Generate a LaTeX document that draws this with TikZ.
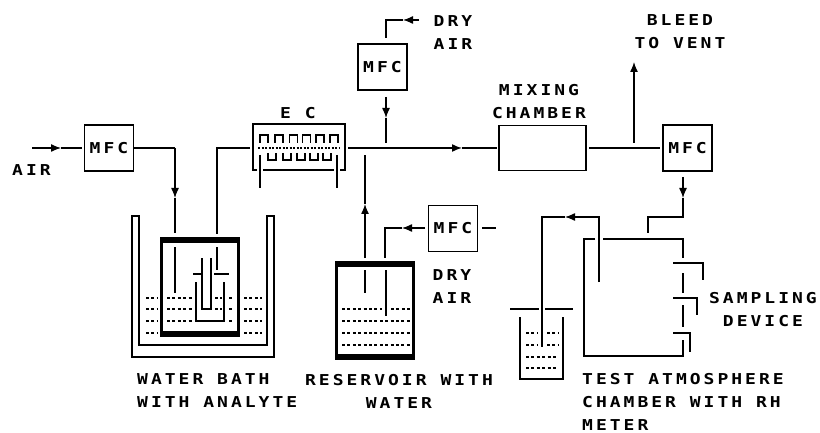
\documentclass[tikz,border=0pt]{standalone}
\usepackage{fontspec}
\newfontfamily\plotfont[FakeStretch=1.2,LetterSpace=20]{DejaVu Sans Mono Bold}
\usetikzlibrary{arrows.meta}
\tikzset{
  conn/.style={line width=1.3pt,black},
  tip/.style={conn,-{Latex[length=10pt,width=8pt]}},
  lab/.style={inner sep=0pt,font=\plotfont\fontsize{15}{23}\selectfont,align=left,anchor=west},
  labc/.style={lab,align=center,anchor=center},
  boxn/.style={draw,line width=1.3pt,inner sep=0pt,font=\plotfont\fontsize{15}{23}\selectfont},
  mfcbox/.style={boxn,minimum width=49pt,minimum height=46pt},
  vessel/.style={draw,line width=3pt,inner sep=0pt},
  band/.style={fill=black},
  liq/.style={line width=1.8pt,dash pattern=on 3pt off 2.4pt},
  coil/.style={line width=1.3pt},
}
\begin{document}
\begin{tikzpicture}[x=1pt,y=-1pt]
\useasboundingbox (0,0) rectangle (820,433);
% boxes
\node[mfcbox] (mfca) at (109,148) {MFC};
\node[mfcbox] (mfcb) at (382.5,67) {MFC};
\node[mfcbox] (mfcc) at (453,228.5) {MFC};
\node[mfcbox] (mfcd) at (687.5,148) {MFC};
\node[boxn,minimum width=87pt,minimum height=45pt] (mix) at (542.5,148) {};
\node[vessel,minimum width=77pt,minimum height=97pt] (bottle) at (200,287) {};
\node[vessel,minimum width=77pt,minimum height=96pt] (res) at (375,310.5) {};
\fill[band] (160,237) rectangle (240,243);
\fill[band] (160,331) rectangle (240,337);
\fill[band] (335,261) rectangle (415,267);
\fill[band] (335,354) rectangle (415,360);
% water bath
\draw[conn] (132,357)--(132,216)--(139,216)--(139,345)--(267,345)--(267,216)--(274,216)--(274,357)--cycle;
\foreach \y in {298,309,321,333}{
  \draw[liq] (146,\y)--(157,\y);
  \draw[liq] (244,\y)--(262,\y);
}
\foreach \y in {298,309,321}{\draw[liq] (167,\y)--(192,\y);}
\foreach \y in {298,309}{\draw[liq] (215,\y)--(222,\y);}
\foreach \y in {298,309,321}{\draw[liq] (229,\y)--(234,\y);}
% inner flask
\draw[conn] (196,282)--(196,321)--(224,321)--(224,282);
\draw[conn] (193,274)--(201,274);
\draw[conn] (214,274)--(229,274);
\draw[conn] (202,258)--(202,309)--(211,309)--(211,258);
% connectors, left part
\coordinate (airin) at (32,148);
\coordinate (airtip) at (61,148);
\draw[tip] (airin)--(airtip);
\draw[conn] (airtip)--(82,148);
\coordinate (bdown) at (175,148);
\coordinate (btip) at (175,198);
\coordinate (bend) at (175,233);
\draw[conn] (mfca.east)--(bdown);
\draw[tip] (bdown)--(btip);
\draw[conn] (btip)--(bend);
\draw[conn] (175,247)--(175,293);
\draw[conn,line width=1.5pt] (250,148)--(217,148)--(217,234);
\draw[conn] (217,247)--(217,270);
% EC
\node[inner sep=0pt] (eclab) at (298,113) {\plotfont\fontsize{15}{23}\selectfont E C};
\draw[conn] (257,170)--(253,170)--(253,124)--(345,124)--(345,170)--(340,170);
\draw[conn] (263,170)--(334,170);
\draw[conn] (260,155)--(260,188);
\draw[conn] (337,155)--(337,188);
\foreach \x in {260,275,289.5,302.5,316,330}{
  \draw[coil] (\x,143)--(\x,135)--(\x+8,135)--(\x+8,143);
}
\foreach \x in {268,283,297,310,323}{
  \draw[coil] (\x,153)--(\x,160)--(\x+8,160)--(\x+8,153);
}
\draw[line width=1.3pt,dash pattern=on 2pt off 1.5pt] (258,148)--(340,148);
% main line
\coordinate (ecout) at (348,148);
\coordinate (maintip) at (462,148);
\draw[tip,line width=1.5pt] (ecout)--(maintip);
\draw[conn] (maintip)--(497,148);
\draw[conn] (589,148)--(660,148);
% MFC b
\coordinate (bleft) at (386,20);
\coordinate (btip2) at (403,20);
\coordinate (bstart) at (419,20);
\draw[tip] (bstart)--(btip2);
\draw[conn] (btip2)--(bleft)--(386,38);
\coordinate (ctip) at (386,118);
\draw[tip] (386,97)--(ctip);
\draw[conn] (ctip)--(386,143);
% reservoir
\coordinate (rtop) at (365,258);
\coordinate (rtip) at (365,204);
\draw[tip] (rtop)--(rtip);
\draw[conn] (rtip)--(365,155);
\draw[conn] (365,270)--(365,293);
\coordinate (rtip2) at (402,228);
\draw[tip] (425,228)--(rtip2);
\draw[conn] (rtip2)--(385,228)--(385,258);
\draw[conn] (386,270)--(386,316);
\draw[conn] (482,228)--(496,228);
\draw[liq] (342,309)--(382,309);
\draw[liq] (391,309)--(410,309);
\foreach \y in {321,333,345}{\draw[liq] (342,\y)--(410,\y);}
% bleed
\coordinate (bleedtip) at (634,62);
\draw[tip] (634,143)--(bleedtip);
% chamber feed
\coordinate (ftip) at (683,198);
\draw[tip] (683,177)--(ftip);
\draw[conn] (ftip)--(683,217)--(648,217)--(648,233);
% chamber
\draw[conn] (595,239)--(584,239)--(584,356)--(683,356)--(683,340);
\draw[conn] (603,239)--(683,239)--(683,258);
\draw[conn] (683,273)--(683,293);
\draw[conn] (683,305)--(683,327);
\draw[conn] (673,263)--(703,263)--(703,280);
\draw[conn] (673,298)--(697,298)--(697,315);
\draw[conn] (673,333)--(690,333)--(690,352);
% tube
\coordinate (ttip) at (565,217);
\draw[tip] (599,282)--(599,217)--(ttip);
\draw[conn] (ttip)--(542,217)--(542,347);
% small beaker
\draw[conn] (510,309)--(539,309);
\draw[conn] (545,309)--(573,309);
\draw[conn] (520,317)--(520,379)--(563,379)--(563,317);
\foreach \y in {333,345}{\draw[liq] (526,\y)--(538,\y); \draw[liq] (547,\y)--(558,\y);}
\foreach \y in {357,368}{\draw[liq] (526,\y)--(558,\y);}
% labels
\node[lab] (air) at (12,170) {AIR};
\node[labc] (dryb) at (453,32.5) {DRY\\AIR};
\node[labc] (dryc) at (452,287) {DRY\\AIR};
\node[labc] (mixl) at (539,101.5) {MIXING\\CHAMBER};
\node[labc] (bleed) at (680,32) {BLEED\\TO VENT};
\node[labc] (samp) at (763,310) {SAMPLING\\DEVICE};
\node[lab] (wb) at (137,390.5) {WATER BATH\\WITH ANALYTE};
\node[labc] (rw) at (399,391.5) {RESERVOIR WITH\\WATER};
\node[lab] (ta) at (582,401.5) {TEST ATMOSPHERE\\CHAMBER WITH RH\\METER};
\end{tikzpicture}
\end{document}
